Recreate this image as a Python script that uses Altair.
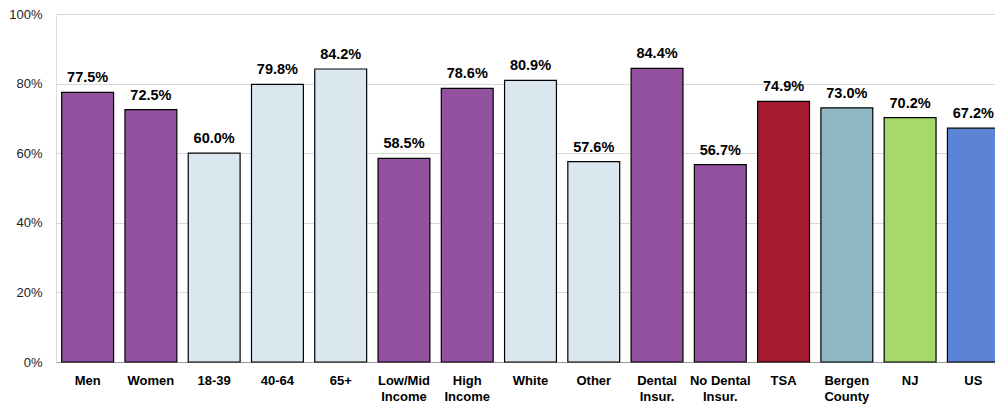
import altair as alt
import pandas as pd

categories = ["Men", "Women", "18-39", "40-64", "65+", "Low/Mid|Income", "High|Income",
              "White", "Other", "Dental|Insur.", "No Dental|Insur.", "TSA", "Bergen|County", "NJ", "US"]
values = [77.5, 72.5, 60.0, 79.8, 84.2, 58.5, 78.6, 80.9, 57.6, 84.4, 56.7, 74.9, 73.0, 70.2, 67.2]
colors = ["#93519F", "#93519F", "#DAE7EE", "#DAE7EE", "#DAE7EE", "#93519F", "#93519F",
          "#DAE7EE", "#DAE7EE", "#93519F", "#93519F", "#A51A31", "#8FB8C7", "#A7D86B", "#5B83D6"]

df = pd.DataFrame({"cat": categories, "val": [v / 100 for v in values], "color": colors,
                   "lbl": [f"{v:.1f}%" for v in values]})

FONT = "Liberation Sans"

x = alt.X("cat:N", sort=categories, title=None,
          scale=alt.Scale(paddingInner=0.18, paddingOuter=0.09, range=[0, 949]),
          axis=alt.Axis(labelAngle=0, labelExpr="split(datum.label, '|')", labelFont=FONT,
                        labelFontWeight="bold", labelFontSize=13, labelColor="#000000",
                        labelLineHeight=16, labelPadding=12, ticks=False, domain=True,
                        domainColor="#999999", labelBaseline="top"))
y = alt.Y("val:Q", title=None,
          scale=alt.Scale(domain=[0, 1], nice=False),
          axis=alt.Axis(format=".0%", values=[0, 0.2, 0.4, 0.6, 0.8, 1.0], ticks=False,
                        domain=False, labelFont=FONT, labelFontSize=13,
                        labelColor="#222222", labelPadding=14, gridColor="#D9D9D9"))

bars = alt.Chart(df).mark_bar(stroke="#000000", strokeWidth=1.2).encode(
    x=x, y=y, color=alt.Color("color:N", scale=None))
text = alt.Chart(df).mark_text(baseline="alphabetic", dy=-10, font=FONT, fontWeight="bold",
                               fontSize=14.5, color="#000000").encode(x=x, y=y, text="lbl:N")

chart = (bars + text).properties(
    width=939, height=348,
    autosize=alt.AutoSizeParams(type="none"),
    padding={"left": 48, "top": 6, "right": 0, "bottom": 44},
).configure_view(stroke=None).configure(background="#FFFFFF")

chart.save("out.html", embed_options={"renderer": "svg", "actions": False})
